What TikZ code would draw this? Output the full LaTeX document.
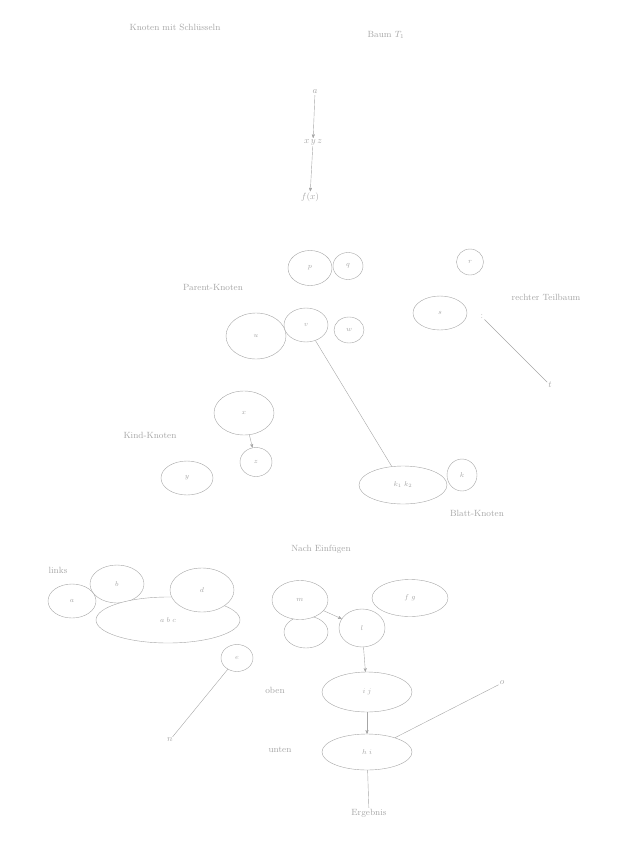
\documentclass[tikz,border=0pt]{standalone}
\usetikzlibrary{arrows}
\usetikzlibrary{shapes.geometric}
\begin{document}
\begin{tikzpicture}[x=1pt, y=-1pt,
  ell/.style={draw=gray!70, thin, ellipse, inner sep=0pt, text=gray!70, font=\scriptsize},
  lbl/.style={text=gray!70, font=\small, inner sep=1pt},
  lnk/.style={gray!70, thin},
  arr/.style={gray!70, thin, ->, >=stealth'}]
\useasboundingbox (0,0) rectangle (624,848);
% titles
\node[lbl] (ttlleft) at (175,27) {Knoten mit Schl\"usseln};
\node[lbl] (ttlright) at (386,35) {Baum $T_1$};
\node[lbl] (ttllow) at (321,549) {Nach Einf\"ugen};
% chain at the top
\node[lbl] (ca) at (315,92) {$a$};
\node[lbl] (cb) at (313,142) {$x\,y\,z$};
\node[lbl] (cc) at (310,197) {$f(x)$};
\draw[arr] (ca) -- (cb);
\draw[arr] (cb) -- (cc);
% ellipses and circles: name/x/y/width/height/text
\foreach \n/\x/\y/\w/\h/\t in {
  p/310/268/44/35/$p$, q/348/266/30/27/$q$,
  u/256/336/60/46/$u$, v/306/325/44/34/$v$, w/349/330/30/26/$w$,
  r/470/262/27/26/$r$, s/440/313/54/34/$s$,
  x/244/413/60/44/$x$, y/187/478/52/34/$y$, z/256/462/32/29/$z$,
  k/403/485/88/38/$k_1\;k_2$, kk/462/475/30/32/$k$,
  la/72/601/48/34/$a$, lb/117/584/54/38/$b$, lc/168/620/144/46/$a\;b\;c$,
  ld/202/590/64/44/$d$, le/237/658/32/27/$e$,
  mk/306/632/44/32/{}, me/300/600/56/39/$m$, ml/362/628/46/38/$l$,
  mf/410/598/76/37/$f\;g$, mi/367/692/90/40/$i\;j$, mj/367/752/90/36/$h\;i$}
  \node[ell, fill=white, minimum width=\w, minimum height=\h] (\n) at (\x,\y) {\t};
% labels
\node[lbl] (lpar) at (213,287) {Parent-Knoten};
\node[lbl] (lright) at (546,297) {rechter Teilbaum};
\node[lbl] (lcolon) at (482,317) {$:$};
\node[lbl] (lt) at (550,385) {$t$};
\node[lbl] (lkind) at (150,435) {Kind-Knoten};
\node[lbl] (lblatt) at (477,513) {Blatt-Knoten};
\node[lbl] (llinks) at (58,570) {links};
\node[lbl] (ln) at (170,740) {$n$};
\node[lbl] (loben) at (275,690) {oben};
\node[lbl] (lunten) at (280,750) {unten};
\node[lbl] (lm) at (502,683) {$o$};
\node[lbl] (lend) at (369,813) {Ergebnis};
% connectors
\draw[lnk] (v) -- (k);
\draw[lnk] (lcolon) -- (lt);
\draw[arr] (x) -- (z);
\draw[lnk] (le) -- (ln);
\draw[arr] (me) -- (ml);
\draw[arr] (ml) -- (mi);
\draw[arr] (mi) -- (mj);
\draw[lnk] (mj) -- (lend);
\draw[lnk] (mj) -- (lm);
\end{tikzpicture}
\end{document}
